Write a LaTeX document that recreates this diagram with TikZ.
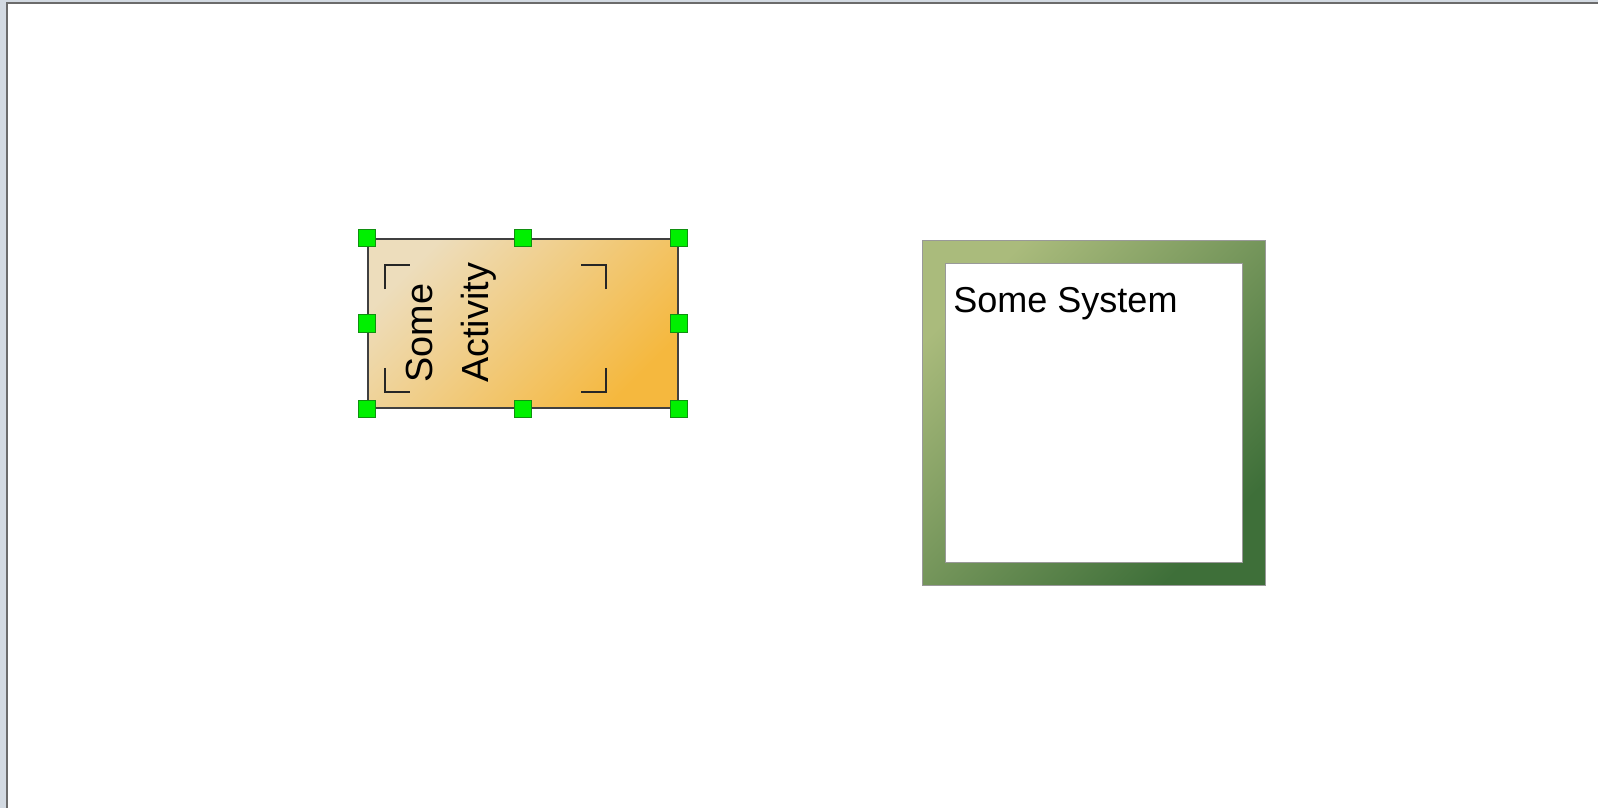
\documentclass[tikz,border=0pt]{standalone}
\usepackage{fontspec}
\setmainfont{Liberation Sans}
\usetikzlibrary{positioning, calc}

\definecolor{chrome}{HTML}{D3DAE2}
\definecolor{framegray}{HTML}{6B6B6B}
\definecolor{actlight}{HTML}{EDDDBC}
\definecolor{actdark}{HTML}{F5B83E}
\definecolor{syslight}{HTML}{AABB7C}
\definecolor{sysdark}{HTML}{3E6F39}
\definecolor{handlefill}{HTML}{00F000}
\definecolor{handledraw}{HTML}{109010}

\begin{document}
\begin{tikzpicture}[
    x=0.02cm, y=-0.02cm,
    activity/.style={rectangle, draw=black!75, line width=1.1pt, minimum width=6.2cm, minimum height=3.38cm,
        top color=actlight, bottom color=actdark, shading angle=45},
    handle/.style={rectangle, draw=handledraw, fill=handlefill, line width=0.6pt, minimum size=0.35cm, inner sep=0pt},
    bracket/.style={draw=black!85, line width=1.1pt},
    system/.style={rectangle, draw=black!40, line width=0.5pt, minimum width=6.86cm, minimum height=6.9cm,
        top color=syslight, bottom color=sysdark, shading angle=45},
    sysinner/.style={rectangle, draw=black!40, fill=white, line width=0.5pt, minimum width=5.94cm, minimum height=5.98cm}
]
    \useasboundingbox (0,0) rectangle (1598,808);

    % Window frame
    \fill[chrome] (0,0) rectangle (1598,2);
    \fill[chrome] (0,0) rectangle (6,808);
    \fill[framegray] (6,2) rectangle (1598,4);
    \fill[framegray] (6,2) rectangle (8,808);

    % Nodes
    \node[activity] (act) at (523,323.5) {};
    \node[system] (sys) at (1093.5,412.5) {};
    \node[sysinner] (sysin) at (sys.center) {};

    % Labels
    \node[rotate=90, anchor=north west, inner sep=0pt, align=left,
          font=\fontsize{21.5}{31.9}\selectfont] (actlabel) at (406,383) {Some\\Activity};
    \node[anchor=base west, inner sep=0pt, font=\fontsize{20.5}{24}\selectfont] (syslabel) at (953,312) {Some System};

    % Corner brackets
    \draw[bracket] ($(act.north west)+(18,51)$) |- ($(act.north west)+(43,27)$);
    \draw[bracket] ($(act.north east)+(-73,51)$) |- ($(act.north east)+(-98,27)$);
    \draw[bracket] ($(act.south west)+(18,-41)$) |- ($(act.south west)+(43,-17)$);
    \draw[bracket] ($(act.south east)+(-73,-41)$) |- ($(act.south east)+(-98,-17)$);

    % Selection handles
    \foreach \a [count=\i] in {north west, north, north east, east, south east, south, south west, west}
        \node[handle] (h\i) at (act.\a) {};
\end{tikzpicture}
\end{document}
